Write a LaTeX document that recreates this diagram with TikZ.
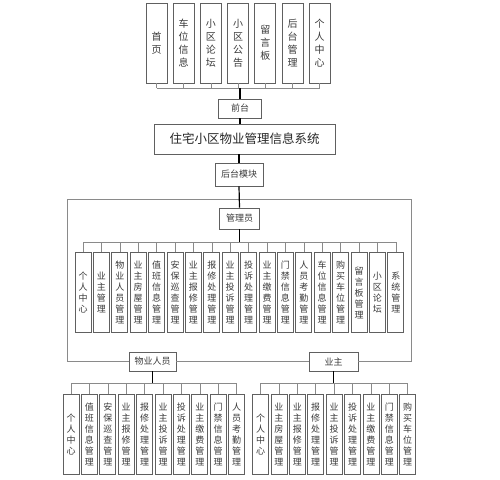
\documentclass[tikz,border=0pt]{standalone}
\usepackage{fontspec}
\usepackage{xcolor}
\newfontfamily\cjk{Noto Sans CJK SC}
\usetikzlibrary{positioning}
\definecolor{boxgray}{HTML}{606060}
\definecolor{linegray}{HTML}{8A8A8A}
\definecolor{txtgray}{HTML}{3A3A3A}

\begin{document}
\begin{tikzpicture}[
        x=1pt, y=-1pt,
        % Define styles for different components
        box/.style={
            draw=boxgray,
            fill=white,
            line width=0.8pt,
            inner sep=0pt,
            align=center,
            text=txtgray,
            font=\cjk\fontsize{9}{11}\selectfont
        },
        topbox/.style={
            box,
            minimum width=21pt,
            minimum height=80pt,
            font=\cjk\fontsize{10}{13}\selectfont
        },
        leaf/.style={
            box,
            minimum width=16pt,
            minimum height=80pt
        },
        title/.style={
            box,
            minimum width=181pt,
            minimum height=30pt,
            text=black!85,
            font=\cjk\fontsize{12.5}{15}\selectfont
        },
        link/.style={
            draw=linegray,
            line width=0.6pt
        },
        trunk/.style={
            draw=black,
            line width=1.2pt
        }
    ]
    \useasboundingbox (0,0) rectangle (500,479);

    % Place front page modules
    \foreach \t [count=\i] in {{首\\页},{车\\位\\信\\息},{小\\区\\论\\坛},{小\\区\\公\\告},{留\\言\\板},{后\\台\\管\\理},{个\\人\\中\\心}} {
        \node[topbox] (top\i) at ({156.5+(\i-1)*27.2},43) {\t};
    }

    % Place main blocks
    \node[box, minimum width=43pt, minimum height=19pt] (front) at (240,108.5) {前台};
    \node[title] (sys) at (244.5,139) {住宅小区物业管理信息系统};
    \node[box, minimum width=48pt, minimum height=23pt] (back) at (239,174.5) {后台模块};
    \node[box, minimum width=40pt, minimum height=21pt] (admin) at (239.5,218.5) {管理员};
    \node[box, minimum width=47pt, minimum height=19pt] (staff) at (152.5,361.5) {物业人员};
    \node[box, minimum width=49pt, minimum height=19pt] (owner) at (333.5,361.5) {业主};

    % Place administrator modules
    \foreach \t [count=\i] in {{个\\人\\中\\心},{业\\主\\管\\理},{物\\业\\人\\员\\管\\理},{业\\主\\房\\屋\\管\\理},{值\\班\\信\\息\\管\\理},{安\\保\\巡\\查\\管\\理},{业\\主\\报\\修\\管\\理},{报\\修\\处\\理\\管\\理},{业\\主\\投\\诉\\管\\理},{投\\诉\\处\\理\\管\\理},{业\\主\\缴\\费\\管\\理},{门\\禁\\信\\息\\管\\理},{人\\员\\考\\勤\\管\\理},{车\\位\\信\\息\\管\\理},{购\\买\\车\\位\\管\\理},{留\\言\\板\\管\\理},{小\\区\\论\\坛},{系\\统\\管\\理}} {
        \node[leaf] (adm\i) at ({83+(\i-1)*18.4},292.5) {\t};
    }

    % Place staff modules
    \foreach \t [count=\i] in {{个\\人\\中\\心},{值\\班\\信\\息\\管\\理},{安\\保\\巡\\查\\管\\理},{业\\主\\报\\修\\管\\理},{报\\修\\处\\理\\管\\理},{业\\主\\投\\诉\\管\\理},{投\\诉\\处\\理\\管\\理},{业\\主\\缴\\费\\管\\理},{门\\禁\\信\\息\\管\\理},{人\\员\\考\\勤\\管\\理}} {
        \node[leaf] (stf\i) at ({71+(\i-1)*18.4},434) {\t};
    }

    % Place owner modules
    \foreach \t [count=\i] in {{个\\人\\中\\心},{业\\主\\房\\屋\\管\\理},{业\\主\\报\\修\\管\\理},{报\\修\\处\\理\\管\\理},{业\\主\\投\\诉\\管\\理},{投\\诉\\处\\理\\管\\理},{业\\主\\缴\\费\\管\\理},{门\\禁\\信\\息\\管\\理},{购\\买\\车\\位\\管\\理}} {
        \node[leaf] (own\i) at ({260.5+(\i-1)*18.4},434) {\t};
    }

    % Bus coordinates
    \coordinate (topbus) at (240,88);
    \coordinate (admbus) at (240,242);
    \coordinate (frameL) at (67,199);
    \coordinate (frameR) at (411,199);
    \coordinate (lowbus) at (0,383);

    % Draw front page tree
    \foreach \i in {1,...,7} {
        \draw[link] (top\i.south) -- (top\i.south |- topbus);
    }
    \draw[link] (top1.south |- topbus) -- (top7.south |- topbus);
    \draw[trunk] (topbus) -- (front.north);
    \draw[trunk] (front.south) -- (front.south |- sys.north);
    \draw[trunk] (back.north |- sys.south) -- (back.north);

    % Draw back end frame
    \draw[link] (staff.west) -| (frameL) -- (frameR) |- (owner.east);
    \draw[link] (staff.east) -- (owner.west);
    \draw[trunk] (back.south) -- (admin.north);

    % Draw administrator tree
    \foreach \i in {1,...,18} {
        \draw[link] (adm\i.north) -- (adm\i.north |- admbus);
    }
    \draw[link] (adm1.north |- admbus) -- (adm18.north |- admbus);
    \draw[trunk] (admin.south) -- (admin.south |- admbus);

    % Draw staff and owner trees
    \foreach \i in {1,...,10} {
        \draw[link] (stf\i.north) -- (stf\i.north |- lowbus);
    }
    \draw[link] (stf1.north |- lowbus) -- (stf10.north |- lowbus);
    \draw[trunk] (staff.south) -- (staff.south |- lowbus);
    \foreach \i in {1,...,9} {
        \draw[link] (own\i.north) -- (own\i.north |- lowbus);
    }
    \draw[link] (own1.north |- lowbus) -- (own9.north |- lowbus);
    \draw[trunk] (owner.south) -- (owner.south |- lowbus);

\end{tikzpicture}
\end{document}
